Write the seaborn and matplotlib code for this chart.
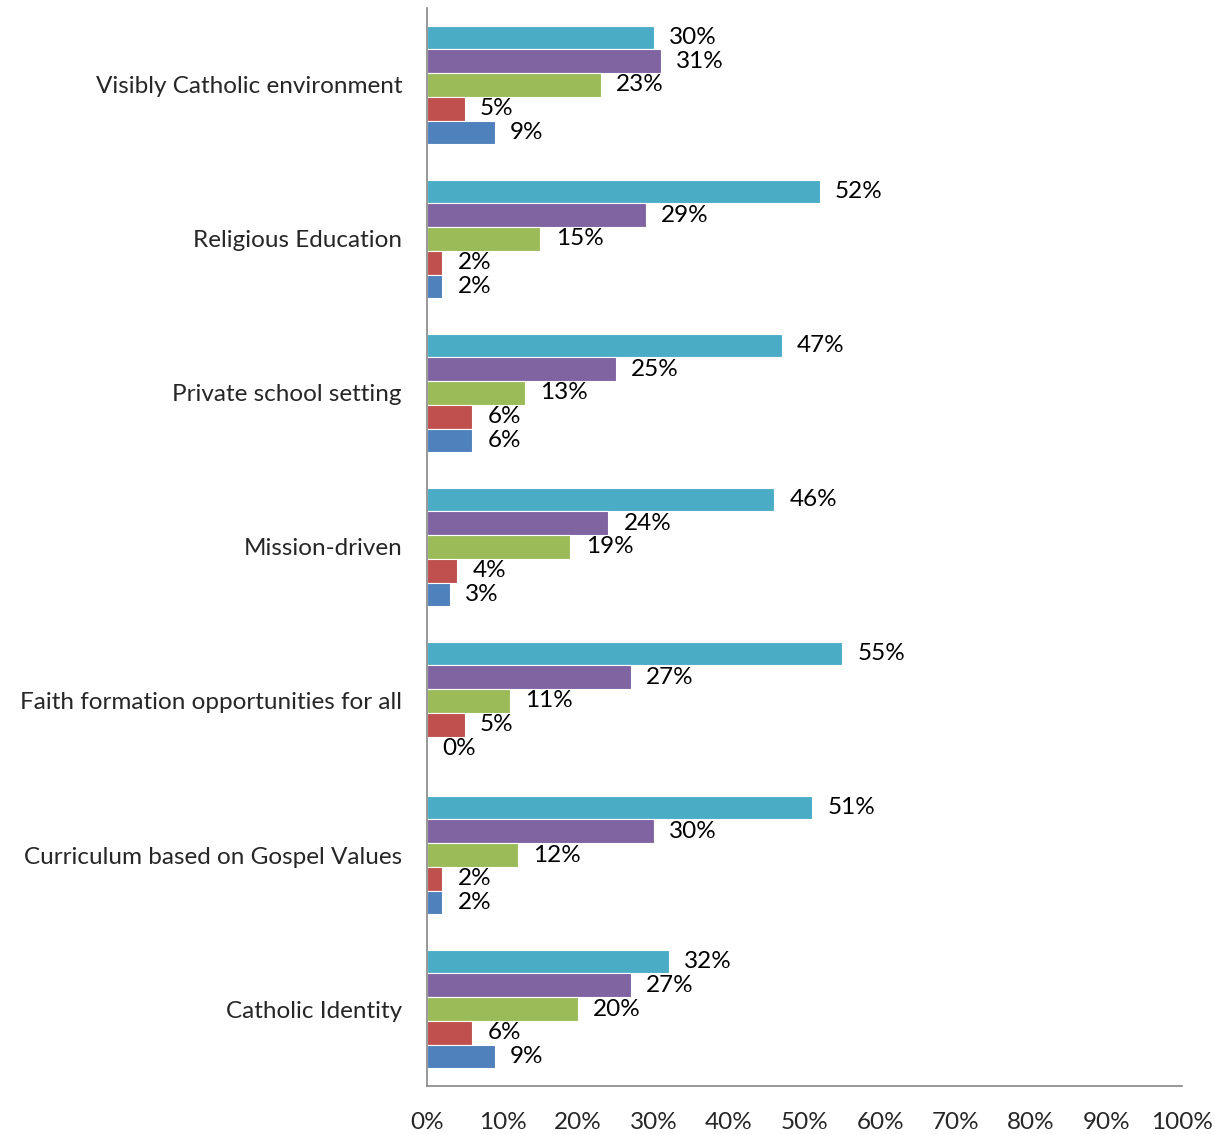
import pandas as pd
import seaborn as sns
import matplotlib.pyplot as plt

categories = ["Visibly Catholic environment", "Religious Education", "Private school setting",
              "Mission-driven", "Faith formation opportunities for all",
              "Curriculum based on Gospel Values", "Catholic Identity"]
series_names = ["Series 5", "Series 4", "Series 3", "Series 2", "Series 1"]
series_5 = [30, 52, 47, 46, 55, 51, 32]
series_4 = [31, 29, 25, 24, 27, 30, 27]
series_3 = [23, 15, 13, 19, 11, 12, 20]
series_2 = [5, 2, 6, 4, 5, 2, 6]
series_1 = [9, 2, 6, 3, 0, 2, 9]
x_ticks = [0, 10, 20, 30, 40, 50, 60, 70, 80, 90, 100]

colors = ["#4BACC6", "#8064A2", "#9BBB59", "#C0504D", "#4F81BD"]

# long format table for seaborn
rows = []
for name, vals in zip(series_names, [series_5, series_4, series_3, series_2, series_1]):
    for cat, v in zip(categories, vals):
        rows.append({"category": cat, "series": name, "value": v})
df = pd.DataFrame(rows)

sns.set_style("white")
plt.rcParams['font.family'] = ['Lato', 'DejaVu Sans']
fs = 17.5

fig = plt.figure(figsize=(12.2, 11.34), dpi=100)
ax = fig.add_axes([0.35, 0.0423, 0.619, 0.9507])

sns.barplot(data=df, y="category", x="value", hue="series", order=categories,
            hue_order=series_names, palette=colors, saturation=1, orient="h", width=0.77,
            edgecolor="white", linewidth=0.8, legend=False, ax=ax)

for cont in ax.containers:
    ax.bar_label(cont, labels=[f"{int(v)}%" for v in cont.datavalues],
                 padding=11, fontsize=fs, color="black")

ax.set_xlim(0, 100)
ax.set_ylim(6.5, -0.5)
ax.set_xticks(x_ticks)
ax.set_xticklabels([f"{t}%" for t in x_ticks], fontsize=fs)
ax.tick_params(axis="x", length=0, pad=19)
ax.tick_params(axis="y", length=0, pad=18, labelsize=fs)
ax.set_xlabel("")
ax.set_ylabel("")

sns.despine(ax=ax)
for s in ["left", "bottom"]:
    ax.spines[s].set_color("#868686")
    ax.spines[s].set_linewidth(1.2)

fig.savefig("out.png", dpi=100)
